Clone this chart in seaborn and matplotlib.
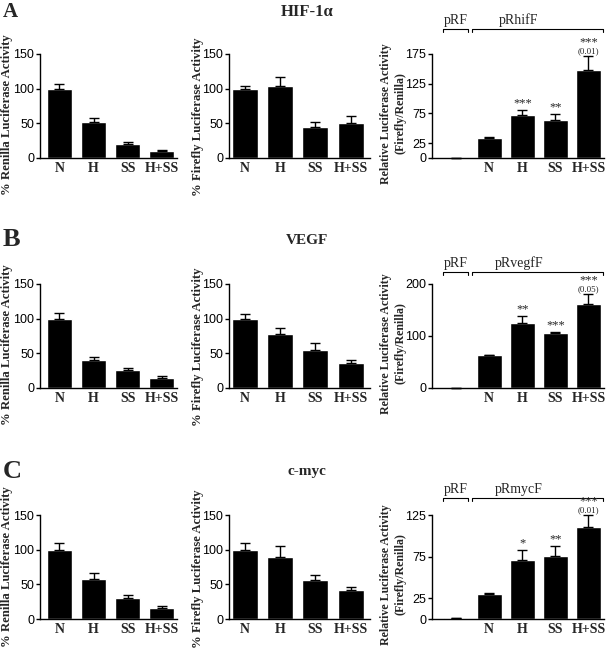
import numpy as np
import pandas as pd
import matplotlib
matplotlib.use("Agg")
import matplotlib.pyplot as plt
import matplotlib.transforms as mtransforms
import seaborn as sns

# datos
conditions = ['N', 'H', 'SS', 'H+SS']
ratio_groups = ['pRF', 'N', 'H', 'SS', 'H+SS']

renilla_A = [100, 52, 19.5, 10]
renilla_A_err = [7, 5, 3.4, 1]
firefly_A = [100, 104, 44, 51]
firefly_A_err = [4, 13.5, 8, 9]
ratio_A = [0.6, 34, 73, 64.5, 147.5]
ratio_A_err = [0, 1, 8, 10, 24]
sig_A = ['', '', '***', '**', '***']
pval_A = ['', '', '', '', '(0.01)']

renilla_B = [100, 40.5, 26.5, 15]
renilla_B_err = [8, 4, 2.4, 2.4]
firefly_B = [100, 78, 55, 36]
firefly_B_err = [7, 9, 9.6, 4]
ratio_B = [0.6, 62.6, 124.5, 105.5, 161.7]
ratio_B_err = [0, 1, 14, 3, 19]
sig_B = ['', '', '**', '***', '***']
pval_B = ['', '', '', '', '(0.05)']

renilla_C = [100, 57, 30, 15.5]
renilla_C_err = [10, 9.5, 4, 3]
firefly_C = [100, 89, 56, 42]
firefly_C_err = [9, 16, 8, 4.5]
ratio_C = [0.8, 30, 71, 75.6, 111]
ratio_C_err = [0, 1.5, 12, 12, 14]
sig_C = ['', '', '*', '**', '***']
pval_C = ['', '', '', '', '(0.01)']

rows = [
    ('A', 'HIF-1\u03b1', 'pRhifF', renilla_A, renilla_A_err, firefly_A, firefly_A_err,
     ratio_A, ratio_A_err, sig_A, pval_A, [0, 25, 75, 125, 175]),
    ('B', 'VEGF', 'pRvegfF', renilla_B, renilla_B_err, firefly_B, firefly_B_err,
     ratio_B, ratio_B_err, sig_B, pval_B, [0, 100, 200]),
    ('C', 'c-myc', 'pRmycF', renilla_C, renilla_C_err, firefly_C, firefly_C_err,
     ratio_C, ratio_C_err, sig_C, pval_C, [0, 25, 75, 125]),
]

sns.set_style("ticks")
plt.rcParams['font.family'] = ['Liberation Sans', 'DejaVu Sans']
plt.rcParams['axes.linewidth'] = 1.0
SERIF = ['Liberation Serif', 'DejaVu Serif']

fig = plt.figure(figsize=(6.12, 6.52), dpi=100)
H = 652.0
W = 612.0

# posiciones en pixeles (izq, ancho) de cada columna y (abajo, arriba) de cada fila
cols_px = [(40, 137), (229, 141), (432, 172)]
rows_px = [(158, 54), (388, 284), (619, 515)]
letter_y = [12, 240, 471]
letter_size = [15, 19, 19]
title_y = [12, 240, 472]
title_size = [12, 11, 11]
bracket_y = [29, 272, 498]
label_y = [0.42, 0.42, 0.5]


def estilo(ax, ticks, labels):
    sns.despine(ax=ax)
    ax.set_yticks(ticks)
    ax.set_ylim(0, ticks[-1])
    ax.tick_params(axis='y', length=3, width=1, pad=1.2, labelsize=9, colors='black')
    ax.tick_params(axis='x', length=0, pad=3)
    ax.set_xticks(range(len(labels)))
    ax.set_xticklabels(labels, fontfamily=SERIF, fontweight='bold', fontsize=10)
    ax.set_xlabel('')
    for s in ax.spines.values():
        s.set_color('black')


def barras(ax, cats, vals, errs, width):
    df = pd.DataFrame({'cond': cats, 'val': vals})
    sns.barplot(data=df, x='cond', y='val', color='black', saturation=1,
                width=width, errorbar=None, ax=ax, zorder=2)
    x = np.arange(len(vals))
    ax.errorbar(x, vals, yerr=[np.zeros(len(errs)), errs], fmt='none', ecolor='black',
                elinewidth=1, capsize=3.5, capthick=1, clip_on=False, zorder=3)


for r, (letter, title, plasmid, ren, ren_e, fir, fir_e, rat, rat_e, sig, pval, rticks) in enumerate(rows):
    bot, top = rows_px[r]
    fb = 1 - bot / H
    fh = (bot - top) / H

    # renilla
    l, w = cols_px[0]
    ax1 = fig.add_axes([l / W, fb, w / W, fh])
    barras(ax1, conditions, ren, ren_e, 0.74)
    ax1.set_xlim(-0.57, 3.45)
    estilo(ax1, [0, 50, 100, 150], conditions)
    ax1.set_ylabel('% Renilla Luciferase Activity', fontfamily=SERIF, fontweight='bold', fontsize=9.2)
    ax1.yaxis.set_label_coords(-0.195, label_y[r])

    # firefly
    l, w = cols_px[1]
    ax2 = fig.add_axes([l / W, fb, w / W, fh])
    barras(ax2, conditions, fir, fir_e, 0.74)
    ax2.set_xlim(-0.45, 3.55)
    estilo(ax2, [0, 50, 100, 150], conditions)
    ax2.set_ylabel('% Firefly Luciferase Activity', fontfamily=SERIF, fontweight='bold', fontsize=9.2)
    ax2.yaxis.set_label_coords(-0.18, label_y[r] - 0.02)

    # relativo
    l, w = cols_px[2]
    ax3 = fig.add_axes([l / W, fb, w / W, fh])
    barras(ax3, ratio_groups, rat, rat_e, 0.76)
    ax3.set_xlim(-0.73, 4.47)
    estilo(ax3, rticks, [''] + conditions)
    ax3.set_ylabel('Relative Luciferase Activity\n(Firefly/Renilla)', fontfamily=SERIF,
                   fontweight='bold', fontsize=8.6, linespacing=1.3)
    ax3.yaxis.set_label_coords(-0.15, 0.43)

    for i, s in enumerate(sig):
        if not s:
            continue
        y = rat[i] + rat_e[i]
        off = 0.5
        if pval[i]:
            ax3.annotate(pval[i], xy=(i, y), xytext=(0, 0.5), textcoords='offset points',
                         ha='center', va='bottom', fontsize=6.5, fontfamily=SERIF,
                         annotation_clip=False)
            off = 5.5
        ax3.annotate(s, xy=(i, y), xytext=(0, off), textcoords='offset points',
                     ha='center', va='bottom', fontsize=9, fontfamily=SERIF,
                     annotation_clip=False)

    # corchetes pRF / plasmido
    by = 1 + (top - bracket_y[r]) / (bot - top)
    tr = mtransforms.blended_transform_factory(ax3.transData, ax3.transAxes)
    dy = 3 / (bot - top)
    for x0, x1 in [(-0.40, 0.36), (0.49, 4.44)]:
        ax3.plot([x0, x0, x1, x1], [by - dy, by, by, by - dy], color='black', lw=0.8,
                 transform=tr, clip_on=False, solid_joinstyle='round')
    ax3.text(0, by + 0.02, 'pRF', transform=tr, ha='center', va='bottom',
             fontfamily=SERIF, fontsize=10)
    ax3.text(1.9, by + 0.02, plasmid, transform=tr, ha='center', va='bottom',
             fontfamily=SERIF, fontsize=10)

    fig.text(3 / W, 1 - letter_y[r] / H, letter, ha='left', va='center',
             fontfamily=SERIF, fontweight='bold', fontsize=letter_size[r])
    fig.text(0.502, 1 - title_y[r] / H, title, ha='center', va='center',
             fontfamily=SERIF, fontweight='bold', fontsize=title_size[r])

fig.savefig('out.png', dpi=100)
